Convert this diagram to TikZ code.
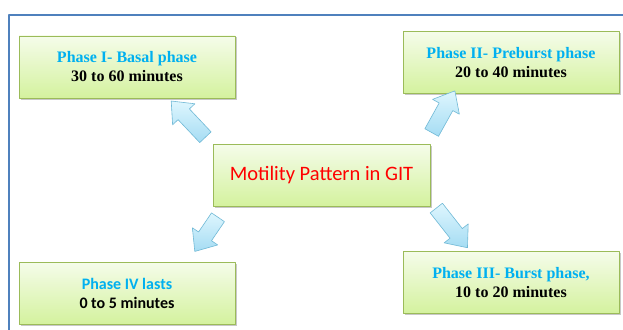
\documentclass[tikz,border=0pt]{standalone}
\usepackage{fontspec}
\setmainfont{Liberation Serif}
\newfontfamily\calibri{Carlito}
\usetikzlibrary{shapes.arrows,shadows,calc}
\definecolor{framebl}{RGB}{79,129,189}
\definecolor{boxedge}{RGB}{155,187,89}
\definecolor{boxtop}{RGB}{245,252,234}
\definecolor{boxbot}{RGB}{212,242,158}
\definecolor{titlebl}{RGB}{0,176,240}
\definecolor{arrtop}{RGB}{222,246,254}
\definecolor{arrbot}{RGB}{165,220,243}
\definecolor{arredge}{RGB}{112,185,214}
\tikzset{
  phasebox/.style={draw=boxedge, line width=0.8pt, top color=boxtop, bottom color=boxbot,
    minimum width=216pt, minimum height=62pt, inner sep=0pt, align=center,
    font=\bfseries\fontsize{16}{19}\selectfont,
    drop shadow={shadow xshift=1.5pt, shadow yshift=-1.5pt, opacity=0.3, fill=black!70}},
  fatarrow/.style={single arrow, draw=arredge, line width=0.6pt, top color=arrtop, bottom color=arrbot,
    inner xsep=0pt, inner ysep=7.5pt, single arrow head extend=7.5pt, single arrow tip angle=80,
    sloped, allow upside down}
}
\begin{document}
\begin{tikzpicture}[x=1pt, y=-1pt, line join=round]
  \useasboundingbox (0,0) rectangle (623,329);
  \fill[white] (0,0) rectangle (623,329);
  \coordinate (fbl) at (9,340);
  \coordinate (ftl) at (9,15);
  \coordinate (ftr) at (640,15);
  \draw[framebl, line width=1.5pt] (fbl) -- (ftl) -- (ftr);
  \node[phasebox] (basal) at (127,67) {{\color{titlebl}Phase I- Basal phase}\\30 to 60 minutes};
  \node[phasebox] (preburst) at (511,62.5) {{\color{titlebl}Phase II- Preburst phase}\\20 to 40 minutes};
  \node[phasebox] (burst) at (511,282.5) {{\color{titlebl}Phase III- Burst phase,}\\10 to 20 minutes};
  \node[phasebox, font=\calibri\bfseries\fontsize{16}{19}\selectfont] (lasts) at (127,293) {{\color{titlebl}Phase IV lasts}\\0 to 5 minutes};
  \node[phasebox, minimum width=217pt, font=\calibri\fontsize{20.5}{24}\selectfont, text=red] (motility) at (321.5,175) {Motility Pattern in GIT};
  \coordinate (a1t) at ($(motility.north west)+(-4,-3)$);
  \coordinate (a1h) at ($(basal.south east)+(-61,6)$);
  \coordinate (a2t) at ($(motility.north east)+(-1,-7)$);
  \coordinate (a2h) at ($(preburst.south west)+(50,1)$);
  \coordinate (a3t) at ($(motility.south west)+(8,7)$);
  \coordinate (a3h) at ($(lasts.north east)+(-38,-14)$);
  \coordinate (a4t) at ($(motility.south east)+(3,-2)$);
  \coordinate (a4h) at ($(burst.north west)+(62,-7)$);
  \path let \p1=($(a1h)-(a1t)$), \n1={veclen(\x1,\y1)} in (a1t) -- (a1h) node[fatarrow, midway, minimum height=\n1] {};
  \path let \p1=($(a2h)-(a2t)$), \n1={veclen(\x1,\y1)} in (a2t) -- (a2h) node[fatarrow, midway, minimum height=\n1] {};
  \path let \p1=($(a3h)-(a3t)$), \n1={veclen(\x1,\y1)} in (a3t) -- (a3h) node[fatarrow, midway, minimum height=\n1] {};
  \path let \p1=($(a4h)-(a4t)$), \n1={veclen(\x1,\y1)} in (a4t) -- (a4h) node[fatarrow, midway, minimum height=\n1] {};
\end{tikzpicture}
\end{document}
